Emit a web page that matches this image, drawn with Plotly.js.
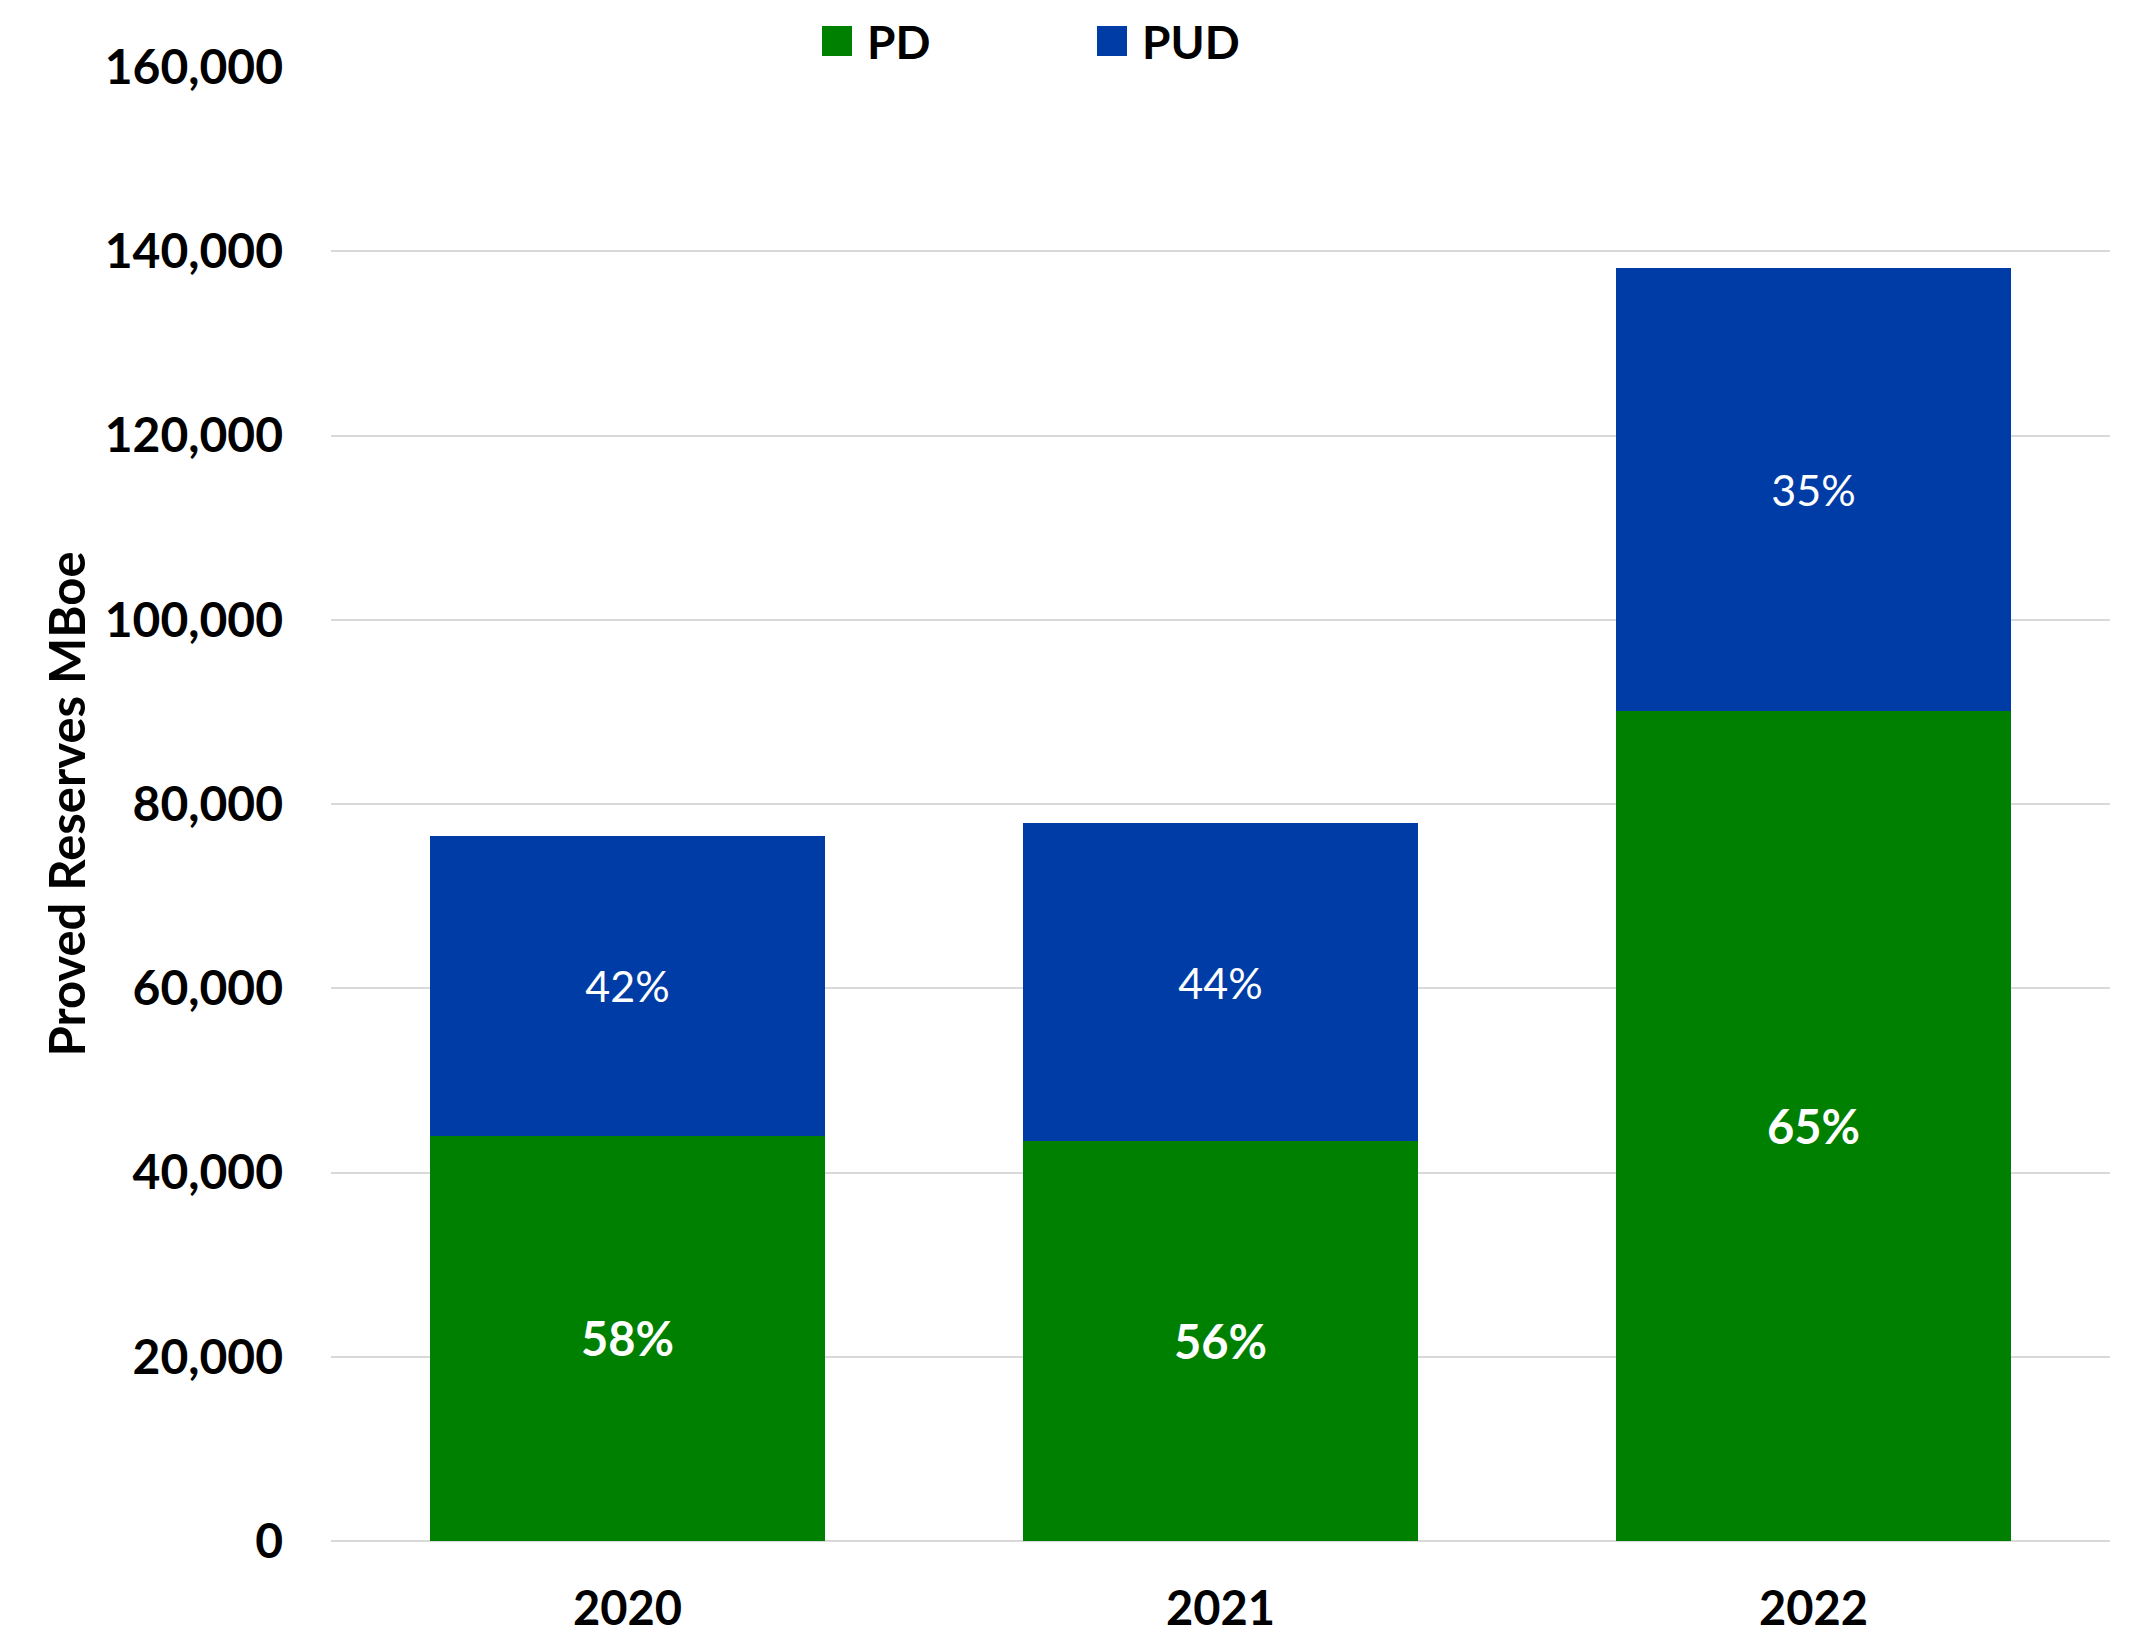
<!DOCTYPE html>
<html>
<head>
<meta charset="utf-8">
<script src="https://cdn.plot.ly/plotly-3.0.1.min.js"></script>
<style>
  html, body { margin: 0; padding: 0; background: #ffffff; }
  #chart { width: 2137px; height: 1635px; }
</style>
</head>
<body>
<div id="chart"></div>
<script>
// Data (MBoe)
const years = ['2020', '2021', '2022'];
const pdValues = [44000, 43450, 90100];
const pudValues = [32550, 34450, 48100];
const pdLabels = ['58%', '56%', '65%'];
const pudLabels = ['42%', '44%', '35%'];
const yTickValues = [0, 20000, 40000, 60000, 80000, 100000, 120000, 140000, 160000];

const FONT = 'Lato, "Open Sans", sans-serif';

const traces = [
  {
    type: 'bar',
    name: 'PD',
    x: years,
    y: pdValues,
    text: pdLabels,
    textposition: 'inside',
    insidetextanchor: 'middle',
    textangle: 0,
    textfont: { family: FONT, size: 47, color: '#ffffff', weight: 'bold' },
    marker: { color: '#008000' },
    hoverinfo: 'x+y+name'
  },
  {
    type: 'bar',
    name: 'PUD',
    x: years,
    y: pudValues,
    text: pudLabels,
    textposition: 'inside',
    insidetextanchor: 'middle',
    textangle: 0,
    textfont: { family: FONT, size: 43, color: '#ffffff', weight: 'normal' },
    marker: { color: '#003ca6' },
    hoverinfo: 'x+y+name'
  }
];

const layout = {
  width: 2137,
  height: 1635,
  paper_bgcolor: '#ffffff',
  plot_bgcolor: '#ffffff',
  barmode: 'stack',
  bargap: 0.335,
  font: { family: FONT, color: '#000000' },
  margin: { l: 331, r: 27, t: 67, b: 94, autoexpand: false },
  showlegend: true,
  legend: {
    orientation: 'h',
    xref: 'container',
    yref: 'container',
    x: 807 / 2137,
    xanchor: 'left',
    y: 1 - 41 / 1635,
    yanchor: 'middle',
    itemwidth: 50,
    font: { family: FONT, size: 46, color: '#000000', weight: 'bold' },
    entrywidth: 210,
    traceorder: 'normal',
    bgcolor: 'rgba(0,0,0,0)'
  },
  xaxis: {
    type: 'category',
    showgrid: false,
    zeroline: false,
    showline: false,
    ticks: '',
    ticklabelstandoff: 36,
    tickfont: { family: FONT, size: 47, color: '#000000', weight: 'bold' }
  },
  yaxis: {
    range: [0, 160000],
    tickvals: yTickValues,
    tickformat: ',d',
    showgrid: true,
    gridcolor: '#d9d9d9',
    gridwidth: 2,
    zeroline: true,
    zerolinecolor: '#d9d9d9',
    zerolinewidth: 2,
    showline: false,
    ticks: '',
    ticklabelstandoff: 47,
    automargin: false,
    tickfont: { family: FONT, size: 48, color: '#000000', weight: 'bold' },
    title: {
      text: 'Proved Reserves MBoe',
      font: { family: FONT, size: 49, color: '#000000', weight: 'bold' },
      standoff: 3
    }
  }
};

Plotly.newPlot('chart', traces, layout, { displayModeBar: false, responsive: false }).then(function (gd) {
  // Enlarge the legend's square swatches to match the reference
  gd.querySelectorAll('.legend .legendpoints path').forEach(function (p) {
    p.setAttribute('d', 'M15,15H-15V-15H15Z');
  });
});
</script>
</body>
</html>
